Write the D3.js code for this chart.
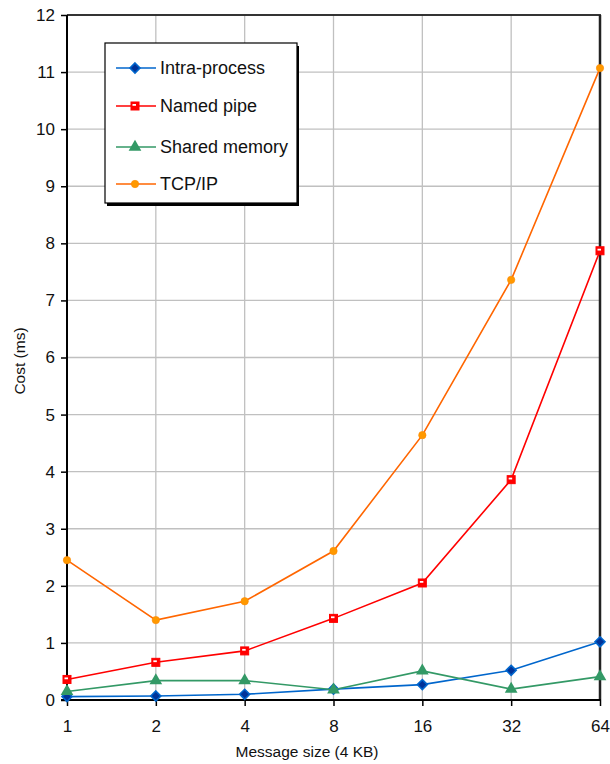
<!DOCTYPE html>
<html><head><meta charset="utf-8">
<script src="https://cdn.jsdelivr.net/npm/d3@7"></script>
<style>body{margin:0;background:#fff}svg{display:block;font-family:"Liberation Sans",Arial,sans-serif}</style>
</head><body><svg id="c" width="610" height="764"></svg>
<script>
const categories = ["1","2","4","8","16","32","64"];
const intraProcess = [0.06,0.07,0.10,0.19,0.27,0.52,1.02];
const namedPipe = [0.36,0.66,0.86,1.43,2.05,3.86,7.87];
const sharedMemory = [0.15,0.34,0.34,0.18,0.51,0.19,0.41];
const tcpIp = [2.45,1.40,1.73,2.61,4.64,7.36,11.07];
const yTicks = [0,1,2,3,4,5,6,7,8,9,10,11,12];
const seriesNames = ["Intra-process","Named pipe","Shared memory","TCP/IP"];

const series = [
  {name:seriesNames[0], values:intraProcess, line:"#0066cc", fill:"#003399", stroke:"#0066cc", shape:"diamond"},
  {name:seriesNames[1], values:namedPipe, line:"#ff0000", fill:"#ff0000", stroke:"#ff0000", shape:"square"},
  {name:seriesNames[2], values:sharedMemory, line:"#339966", fill:"#339966", stroke:"#339966", shape:"triangle"},
  {name:seriesNames[3], values:tcpIp, line:"#ff6600", fill:"#ff9900", stroke:"#ff9900", shape:"circle"}
];

const svg = d3.select("#c");
const L=67, R=600, T=15, B=700;
const x = d3.scalePoint().domain(categories).range([L,R]);
const y = d3.scaleLinear().domain([0,12]).range([B,T]);

// grid
svg.append("g").selectAll("line").data(yTicks.slice(1)).join("line")
  .attr("x1",L).attr("x2",R).attr("y1",d=>y(d)).attr("y2",d=>y(d))
  .attr("stroke","#c0c0c0").attr("stroke-width",1.3);
svg.append("g").selectAll("line").data(categories.slice(1,-1)).join("line")
  .attr("x1",d=>x(d)).attr("x2",d=>x(d)).attr("y1",T).attr("y2",B)
  .attr("stroke","#c0c0c0").attr("stroke-width",1.3);

// frame top/right
svg.append("line").attr("x1",L).attr("x2",R+1).attr("y1",T).attr("y2",T).attr("stroke","#000").attr("stroke-width",1.5);
svg.append("line").attr("x1",R).attr("x2",R).attr("y1",T).attr("y2",B).attr("stroke","#222").attr("stroke-width",2.5);

// axes
const yAxis = svg.append("g").attr("transform",`translate(${L},0)`)
  .call(d3.axisLeft(y).tickValues(yTicks).tickSize(6).tickPadding(6).tickFormat(d3.format("d")));
const xAxis = svg.append("g").attr("transform",`translate(0,${B})`)
  .call(d3.axisBottom(x).tickSize(6).tickPadding(14));
[yAxis,xAxis].forEach(a=>{
  a.select(".domain").attr("stroke","#000").attr("stroke-width",2);
  a.selectAll(".tick line").attr("stroke","#000").attr("stroke-width",1.5);
  a.selectAll("text").attr("font-size",17).attr("fill","#111").attr("font-family","Liberation Sans, Arial, sans-serif");
});
yAxis.select(".domain").attr("d",`M0,${T}V${B+1}`);
xAxis.select(".domain").attr("d",`M${L-6},0H${R+1}`);

// axis titles
svg.append("text").attr("x",307).attr("y",757).attr("text-anchor","middle")
  .attr("font-size",15.5).attr("fill","#111").text("Message size (4 KB)");
svg.append("text").attr("transform",`translate(25,361) rotate(-90)`).attr("text-anchor","middle")
  .attr("font-size",15.5).attr("fill","#111").text("Cost (ms)");

function drawMarker(g, s, cx, cy){
  if(s.shape==="diamond"){
    const r=5;
    g.append("path").attr("d",`M${cx},${cy-r}L${cx+r},${cy}L${cx},${cy+r}L${cx-r},${cy}Z`)
      .attr("fill",s.fill).attr("stroke",s.stroke).attr("stroke-width",1.6);
  } else if(s.shape==="square"){
    g.append("rect").attr("x",cx-4).attr("y",cy-4).attr("width",8).attr("height",8)
      .attr("fill",s.fill).attr("stroke",s.stroke);
    g.append("rect").attr("x",cx-2.5).attr("y",cy-2).attr("width",3.5).attr("height",1.8).attr("fill","#fff");
  } else if(s.shape==="triangle"){
    g.append("path").attr("d",d3.symbol(d3.symbolTriangle,70)()).attr("transform",`translate(${cx},${cy})`)
      .attr("fill",s.fill);
  } else {
    g.append("circle").attr("cx",cx).attr("cy",cy).attr("r",3.7).attr("fill",s.fill).attr("stroke","#ff8800").attr("stroke-width",0.6);
  }
}

const line = d3.line().x((d,i)=>x(categories[i])).y(d=>y(d));
series.forEach(s=>{
  const g = svg.append("g");
  g.append("path").datum(s.values).attr("d",line).attr("fill","none").attr("stroke",s.line).attr("stroke-width",1.6);
  s.values.forEach((v,i)=>drawMarker(g,s,x(categories[i]),y(v)));
});

// legend
const lg = svg.append("g");
lg.append("rect").attr("x",107).attr("y",46).attr("width",192).attr("height",160).attr("fill","#000");
lg.append("rect").attr("x",105).attr("y",43).attr("width",192).attr("height",160).attr("fill","#fff").attr("stroke","#000").attr("stroke-width",1.2);
const ly = [68,106,147,184];
series.forEach((s,i)=>{
  lg.append("line").attr("x1",116).attr("x2",156).attr("y1",ly[i]).attr("y2",ly[i]).attr("stroke",s.line).attr("stroke-width",1.6);
  drawMarker(lg,s,135,ly[i]);
  lg.append("text").attr("x",160).attr("y",ly[i]+6).attr("font-size",18).attr("fill","#111").text(s.name);
});
</script></body></html>
